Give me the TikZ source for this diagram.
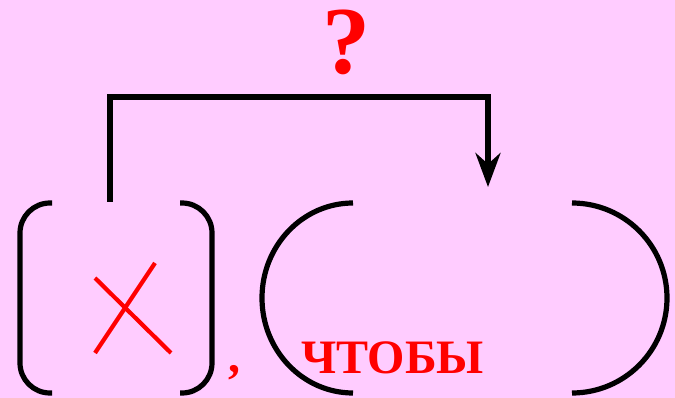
\documentclass[tikz,border=0pt]{standalone}
\usepackage{fontspec}
\setmainfont{Liberation Serif}
\usetikzlibrary{arrows.meta}
\definecolor{bgpink}{RGB}{255,204,255}
\definecolor{txtred}{RGB}{255,0,0}
\begin{document}
\begin{tikzpicture}[x=1pt,y=-1pt,
  bracket/.style={line width=5.2pt,black},
  crossline/.style={line width=4.2pt,txtred},
  flowarrow/.style={line width=5.2pt,black,-{Stealth[length=34pt,width=25pt,inset=11pt]}},
  redtext/.style={inner sep=0pt,text=txtred,font=\bfseries\fontsize{48}{48}\selectfont}]
\fill[bgpink] (0,0) rectangle (675,398);
\useasboundingbox (0,0) rectangle (675,398);
% left square-ish bracket
\draw[bracket,rounded corners=30pt] (52,203) -- (20,203) -- (20,393) -- (52,393);
\draw[bracket,rounded corners=30pt] (180,203) -- (212,203) -- (212,393) -- (180,393);
% red cross
\draw[crossline] (95,278) -- (171,353);
\draw[crossline] (155,263) -- (95,353);
% comma
\node[redtext,anchor=base west] (comma) at (228,372) {,};
% round parentheses
\draw[bracket] (353,203) arc[start angle=90,end angle=270,x radius=91,y radius=-95];
\draw[bracket] (572,203) arc[start angle=90,end angle=-90,x radius=95,y radius=-95];
% text
\node[redtext,anchor=base west] (chtoby) at (301,373) {ЧТОБЫ};
\node[inner sep=0pt,text=txtred,font=\bfseries\fontsize{96}{96}\selectfont,anchor=base] (q) at (346,74) {?};
% arrow
\coordinate (src) at (110,202);
\coordinate (dst) at (488,187);
\draw[flowarrow] (src) -- (110,97) -| (dst);
\end{tikzpicture}
\end{document}
